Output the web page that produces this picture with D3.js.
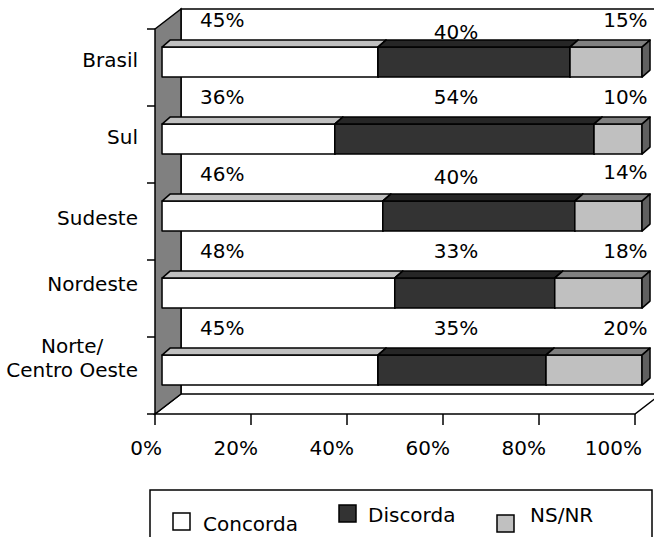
<!DOCTYPE html>
<html>
<head>
<meta charset="utf-8">
<script src="https://cdn.jsdelivr.net/npm/d3@7"></script>
<style>
  html, body { margin: 0; padding: 0; background: #ffffff; }
  svg { display: block; }
  text { font-family: "DejaVu Sans", sans-serif; font-size: 20px; fill: #000; }
</style>
</head>
<body>
<svg id="chart" width="654" height="537"></svg>
<script>
// ---------------- data ----------------
const categories = ["Brasil", "Sul", "Sudeste", "Nordeste", "Norte/\nCentro Oeste"];
const seriesNames = ["Concorda", "Discorda", "NS/NR"];
const concorda = [45, 36, 46, 48, 45];
const discorda = [40, 54, 40, 33, 35];
const nsnr     = [15, 10, 14, 18, 20];
const xTickValues = [0, 0.2, 0.4, 0.6, 0.8, 1.0];
const xTickLabels = ["0%", "20%", "40%", "60%", "80%", "100%"];

// ---------------- styles / layout ----------------
const frontColors = ["#ffffff", "#333333", "#c0c0c0"];
const topColors   = ["#c0c0c0", "#262626", "#808080"];
const sideColors  = ["#c0c0c0", "#262626", "#606060"];
const wallColor = "#808080";
const DX = 26, DY = -20;              // full depth of the 3D box
const barFront = 0.27;                // bar front plane as a fraction of depth
const barDX = 8, barDY = -7;          // bar thickness in depth
const labelColumns = [0.14, 0.627, 0.98];       // value label column centres (axis fraction)
const labelNudge = [[0, 12, 0], [0, 0, 0], [0, 3, -2], [0, 0, 0], [0, 0, 0]];
const catNudge = [-2, -2, 2, -9, -12];

const svg = d3.select("#chart");

const x = d3.scaleLinear().domain([0, 1]).range([155, 635]);
const y = d3.scaleBand().domain(categories).range([29, 414])
  .paddingInner(0.61).paddingOuter(0.305);

const table = categories.map((c, i) => ({
  cat: c, Concorda: concorda[i], Discorda: discorda[i], "NS/NR": nsnr[i]
}));
const stacked = d3.stack().keys(seriesNames).offset(d3.stackOffsetExpand)(table);

const x0 = x(0), x1 = x(1), yTop = y.range()[0], yBot = y.range()[1];
const line = d3.line();

// back wall top line and back vertical edge
svg.append("path")
  .attr("d", line([[x0 + DX, yBot + DY], [x0 + DX, yTop + DY], [x1 + DX + 20, yTop + DY]]))
  .attr("fill", "none").attr("stroke", "#000").attr("stroke-width", 1.5);

// floor
svg.append("path")
  .attr("d", line([[x0, yBot], [x1, yBot], [x1 + DX, yBot + DY], [x0 + DX, yBot + DY]]) + "Z")
  .attr("fill", "#fff").attr("stroke", "#000").attr("stroke-width", 1.5);

// left wall
svg.append("path")
  .attr("d", line([[x0, yTop], [x0 + DX, yTop + DY], [x0 + DX, yBot + DY], [x0, yBot]]) + "Z")
  .attr("fill", wallColor).attr("stroke", "#000").attr("stroke-width", 1.5);

// category ticks on left wall
const catEdges = categories.map(c => y(c) - (y.step() - y.bandwidth()) / 2);
catEdges.push(yBot);
svg.selectAll(".ctick").data(catEdges).enter().append("line")
  .attr("x1", x0 - 8).attr("x2", x0)
  .attr("y1", d => d).attr("y2", d => d)
  .attr("stroke", "#000").attr("stroke-width", 1.5);

// bottom ticks and labels
svg.selectAll(".xtick").data(xTickValues).enter().append("line")
  .attr("x1", d => x(d)).attr("x2", d => x(d))
  .attr("y1", yBot).attr("y2", yBot + 11)
  .attr("stroke", "#000").attr("stroke-width", 1.5);
svg.selectAll(".xlab").data(xTickValues).enter().append("text")
  .attr("x", d => x(d) + 7).attr("y", yBot + 41)
  .attr("text-anchor", "end")
  .text((d, i) => xTickLabels[i]);

// bars
const fx = barFront * DX, fy = barFront * DY;
const gBars = svg.append("g");
categories.forEach((c, ci) => {
  const yt = y(c) + fy, yb = y(c) + y.bandwidth() + fy;
  stacked.forEach((s, si) => {
    const a = x(s[ci][0]) + fx, b = x(s[ci][1]) + fx;
    gBars.append("path")
      .attr("d", line([[a, yt], [b, yt], [b, yb], [a, yb]]) + "Z")
      .attr("fill", frontColors[si]).attr("stroke", "#000").attr("stroke-width", 1.5)
      .attr("stroke-linejoin", "round");
    gBars.append("path")
      .attr("d", line([[a, yt], [a + barDX, yt + barDY], [b + barDX, yt + barDY], [b, yt]]) + "Z")
      .attr("fill", topColors[si]).attr("stroke", "#000").attr("stroke-width", 1.5)
      .attr("stroke-linejoin", "round");
    gBars.append("path")
      .attr("d", line([[b, yt], [b + barDX, yt + barDY], [b + barDX, yb + barDY], [b, yb]]) + "Z")
      .attr("fill", sideColors[si]).attr("stroke", "#000").attr("stroke-width", 1.5)
      .attr("stroke-linejoin", "round");
  });
});

// value labels
const rawSeries = [concorda, discorda, nsnr];
categories.forEach((c, ci) => {
  const yt = y(c) + fy;
  rawSeries.forEach((arr, si) => {
    svg.append("text")
      .attr("x", x(labelColumns[si]))
      .attr("y", yt - 27 + 7 + labelNudge[ci][si])
      .attr("text-anchor", "middle")
      .text(arr[ci] + "%");
  });
});

// category labels
categories.forEach((c, ci) => {
  const lines = c.split("\n");
  const cy = y(c) + y.bandwidth() / 2 + fy + catNudge[ci];
  const lh = 24;
  const t = svg.append("text").attr("text-anchor", "end");
  const startY = cy - (lines.length - 1) * lh / 2 + 7;
  const tsp = lines.map((l, li) => t.append("tspan")
    .attr("x", 138).attr("y", startY + li * lh).text(l));
  if (lines.length > 1) {
    const widths = tsp.map(s => s.node().getComputedTextLength());
    const maxW = d3.max(widths);
    t.attr("text-anchor", "middle");
    tsp.forEach(s => s.attr("x", 138 - maxW / 2));
  }
});

// legend
const lg = svg.append("g");
lg.append("rect").attr("x", 150).attr("y", 490).attr("width", 502).attr("height", 60)
  .attr("fill", "#fff").attr("stroke", "#000").attr("stroke-width", 1.5);
const legendItems = [
  { sx: 173, sy: 513, tx: 203, ty: 531 },
  { sx: 339, sy: 505, tx: 368, ty: 522 },
  { sx: 497, sy: 515, tx: 530, ty: 522 }
];
seriesNames.forEach((n, i) => {
  const it = legendItems[i];
  lg.append("rect").attr("x", it.sx).attr("y", it.sy).attr("width", 17).attr("height", 17)
    .attr("fill", frontColors[i]).attr("stroke", "#000").attr("stroke-width", 1.5);
  lg.append("text").attr("x", it.tx).attr("y", it.ty).text(n);
});
</script>
</body>
</html>
